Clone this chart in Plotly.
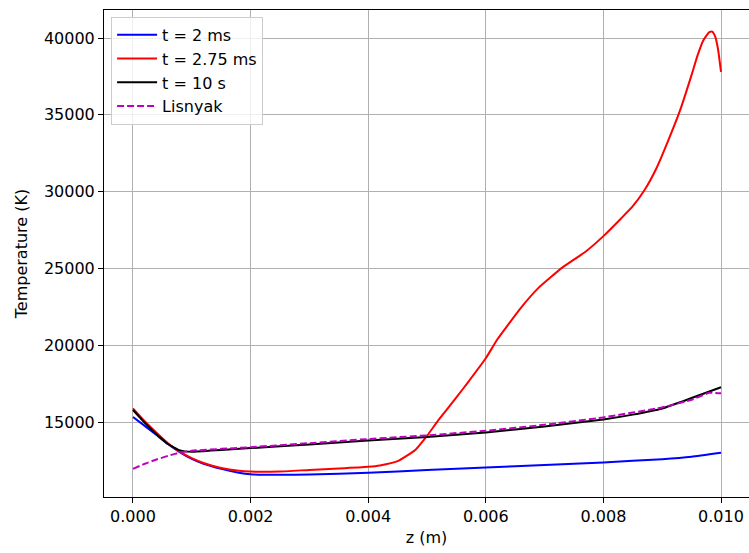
import plotly.graph_objects as go

# ---- data ----
z_blue = [0.0, 0.0002, 0.0004, 0.0006, 0.0008, 0.001, 0.0012, 0.0015, 0.0018, 0.002,
          0.0025, 0.003, 0.004, 0.005, 0.006, 0.007, 0.008, 0.009, 0.0095, 0.01]
T_blue = [15330, 14750, 14150, 13550, 13020, 12600, 12280, 11950, 11700, 11600,
          11560, 11580, 11690, 11880, 12040, 12200, 12370, 12580, 12740, 13000]

z_red = [0.0, 0.0002, 0.0004, 0.0006, 0.0008, 0.001, 0.0012, 0.0015, 0.0018, 0.002,
         0.0025, 0.003, 0.0035, 0.004, 0.0042, 0.0045, 0.0048, 0.005, 0.0052, 0.0055,
         0.0057, 0.006, 0.0062, 0.0066, 0.0069, 0.0073, 0.0077, 0.008, 0.0083, 0.0085,
         0.0087, 0.0089, 0.0091, 0.0093, 0.0095, 0.0096, 0.0097, 0.0098, 0.00985, 0.0099,
         0.00995, 0.01]
T_red = [15890, 15050, 14300, 13600, 13050, 12650, 12330, 12000, 11820, 11770,
         11780, 11880, 11970, 12080, 12170, 12450, 13180, 14100, 15150, 16600,
         17600, 19150, 20400, 22450, 23750, 25050, 26100, 27100, 28250, 29050,
         30100, 31500, 33300, 35250, 37600, 38850, 39850, 40380, 40420, 40100,
         39250, 37800]

z_black = [0.0, 0.0002, 0.0004, 0.0006, 0.0008, 0.001, 0.0015, 0.002, 0.003, 0.004,
           0.005, 0.006, 0.007, 0.008, 0.0085, 0.009, 0.0095, 0.01]
T_black = [15780, 14950, 14200, 13550, 13150, 13060, 13180, 13300, 13540, 13790,
           14020, 14320, 14700, 15170, 15480, 15880, 16560, 17260]

z_lis = [0.0, 0.0002, 0.0004, 0.0006, 0.0008, 0.001, 0.002, 0.003, 0.004, 0.005,
         0.006, 0.007, 0.008, 0.009, 0.0095, 0.0098, 0.01]
T_lis = [11950, 12280, 12560, 12800, 13010, 13130, 13360, 13620, 13890, 14130,
         14430, 14820, 15300, 15950, 16450, 16900, 16870]

x_ticks = [0.0, 0.002, 0.004, 0.006, 0.008, 0.010]
y_ticks = [15000, 20000, 25000, 30000, 35000, 40000]

FONT = "DejaVu Sans"
FS = 16

fig = go.Figure()
fig.add_trace(go.Scatter(x=z_blue, y=T_blue, mode="lines", name="t = 2 ms",
                         line=dict(color="#0000ff", width=2, shape="spline", smoothing=0.4)))
fig.add_trace(go.Scatter(x=z_red, y=T_red, mode="lines", name="t = 2.75 ms",
                         line=dict(color="#ff0000", width=2, shape="spline", smoothing=0.4)))
fig.add_trace(go.Scatter(x=z_black, y=T_black, mode="lines", name="t = 10 s",
                         line=dict(color="#000000", width=2, shape="spline", smoothing=0.4)))
fig.add_trace(go.Scatter(x=z_lis, y=T_lis, mode="lines", name="Lisnyak",
                         line=dict(color="#bf00bf", width=2, dash="7px,3px",
                                   shape="spline", smoothing=0.4)))

fig.update_layout(
    width=749, height=553,
    margin=dict(l=104, r=0, t=10, b=56),
    plot_bgcolor="white", paper_bgcolor="white",
    font=dict(family=FONT, size=FS, color="#000000"),
    showlegend=True,
    legend=dict(x=0.011, y=0.986, xanchor="left", yanchor="top", itemwidth=40,
                bgcolor="rgba(255,255,255,0.8)", bordercolor="#cccccc", borderwidth=1,
                font=dict(family=FONT, size=FS)),
)
fig.update_xaxes(
    range=[-0.000493, 0.010476], tickvals=x_ticks, tickformat=".3f",
    showgrid=True, gridcolor="#b0b0b0", gridwidth=1,
    showline=True, linecolor="black", linewidth=1, mirror=True,
    ticks="outside", ticklen=5, tickcolor="black", zeroline=False,
    title=dict(text="z (m)", standoff=6, font=dict(family=FONT, size=FS)),
)
fig.update_yaxes(
    range=[10117, 41823], tickvals=y_ticks, tickformat="d",
    showgrid=True, gridcolor="#b0b0b0", gridwidth=1,
    showline=True, linecolor="black", linewidth=1, mirror=False,
    ticks="outside", ticklen=5, tickcolor="black", zeroline=False,
    title=dict(text="Temperature (K)", standoff=12, font=dict(family=FONT, size=FS)),
)

fig.write_html("out.html")
